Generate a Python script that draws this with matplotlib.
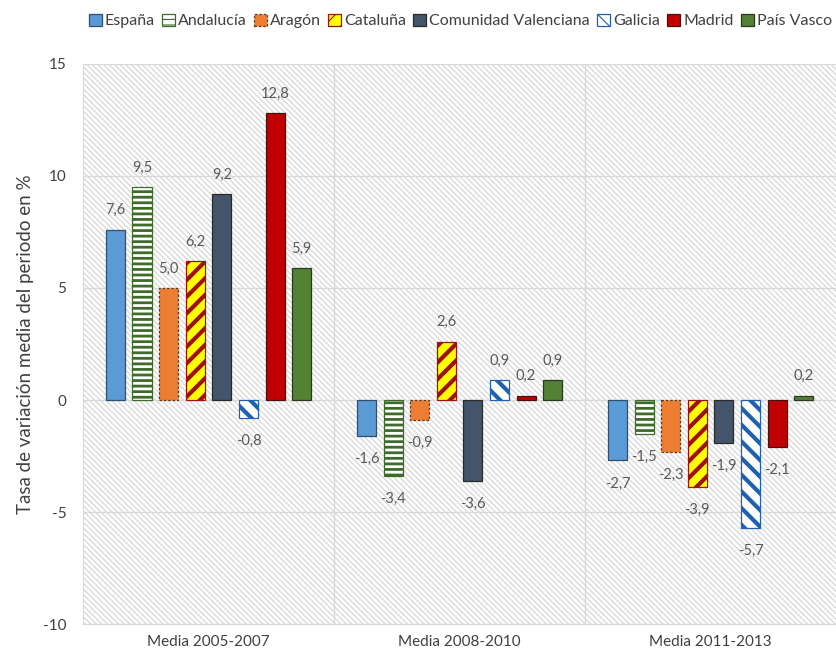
import matplotlib
matplotlib.use("Agg")
import matplotlib.pyplot as plt
import numpy as np

plt.rcParams['font.family'] = ['Lato', 'DejaVu Sans']
plt.rcParams['axes.unicode_minus'] = False

# Datos
periodos = ['Media 2005-2007', 'Media 2008-2010', 'Media 2011-2013']
regiones = ['España', 'Andalucía', 'Aragón', 'Cataluña', 'Comunidad Valenciana',
            'Galicia', 'Madrid', 'País Vasco']
espana = [7.6, -1.6, -2.7]
andalucia = [9.5, -3.4, -1.5]
aragon = [5.0, -0.9, -2.3]
cataluna = [6.2, 2.6, -3.9]
valenciana = [9.2, -3.6, -1.9]
galicia = [-0.8, 0.9, -5.7]
madrid = [12.8, 0.2, -2.1]
pais_vasco = [5.9, 0.9, 0.2]
series = [espana, andalucia, aragon, cataluna, valenciana, galicia, madrid, pais_vasco]

# estilos: (relleno, borde, hatch, grosor hatch, estilo borde)
estilos = [
    ('#5B9BD5', '#2F4F6F', None, 1.0, '-'),
    ('white', '#3E6B2A', '---', 2.0, '-'),
    ('#ED7D31', '#5A3A20', None, 1.0, (0, (2, 1.5))),
    ('#FFFF00', '#A01010', '//', 3.0, '-'),
    ('#44546A', '#2A2A2A', None, 1.0, '-'),
    ('white', '#2060B0', '\\\\', 3.0, '-'),
    ('#C00000', '#4A1010', None, 1.0, '-'),
    ('#548235', '#2A3A20', None, 1.0, '-'),
]

fig = plt.figure(figsize=(8.37, 6.55), dpi=100)
ax = fig.add_axes([83 / 837, 1 - 624 / 655, 1 - 83 / 837 - 0.001, (624 - 64) / 655])

# fondo rayado
plt.rcParams['hatch.linewidth'] = 0.8
ax.patch.set_facecolor('white')
ax.patch.set_edgecolor('#DADADA')
ax.patch.set_hatch('\\' * 6)
ax.patch.set_linewidth(0)

x = np.arange(len(periodos))
step = 0.106
width = 0.076

for i, (vals, nombre, st) in enumerate(zip(series, regiones, estilos)):
    face, edge, hatch, hlw, ls = st
    pos = x + (i - 3.5) * step
    bars = ax.bar(pos, vals, width, color=face, edgecolor=edge, hatch=hatch,
                  linewidth=0.9, linestyle=ls, label=nombre, zorder=3)
    for b in bars:
        if hasattr(b, 'set_hatch_linewidth'):
            b.set_hatch_linewidth(hlw)
    for p, v in zip(pos, vals):
        off = 14 if v >= 0 else -16.5
        ax.annotate(f"{v:.1f}".replace('.', ','), (p, v), xytext=(0, off),
                    textcoords='offset points', ha='center', va='center',
                    fontsize=10.5, color='#595959', zorder=4)

ax.set_xlim(-0.5, 2.5)
ax.set_ylim(-10, 15)
ax.set_yticks([-10, -5, 0, 5, 10, 15])
ax.set_xticks(x)
ax.set_xticklabels(periodos)
ax.tick_params(axis='both', length=0, labelsize=11, colors='#404040')
ax.tick_params(axis='y', pad=12)
ax.tick_params(axis='x', pad=8)
ax.yaxis.grid(True, color='#D9D9D9', linewidth=1, zorder=1)
ax.set_axisbelow(True)
for xv in [0.5, 1.5]:
    ax.axvline(xv, color='#D9D9D9', linewidth=1, zorder=1)
for s in ['top', 'right']:
    ax.spines[s].set_visible(False)
ax.spines['left'].set_color('#D9D9D9')
ax.spines['bottom'].set_color('#D9D9D9')
ax.set_ylabel('Tasa de variación media del periodo en %', fontsize=13.5,
              color='#404040', labelpad=6)

fig.legend(loc='center', bbox_to_anchor=(0.55, 0.968), ncol=8, frameon=False,
           fontsize=11.5, handlelength=0.8, handleheight=0.8, handletextpad=0.2,
           columnspacing=0.45, labelcolor='#404040')

fig.savefig('out.png', dpi=100)
